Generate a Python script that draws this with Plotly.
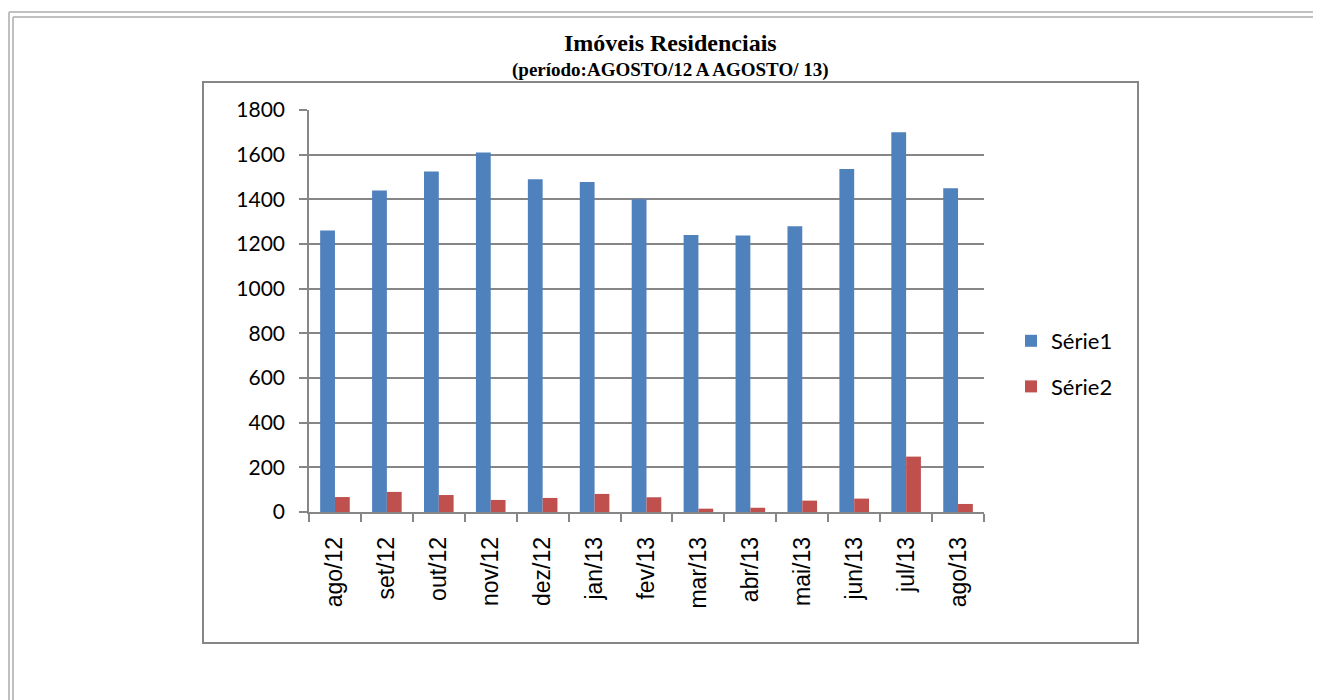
import plotly.graph_objects as go

categories = ["ago/12", "set/12", "out/12", "nov/12", "dez/12", "jan/13", "fev/13",
              "mar/13", "abr/13", "mai/13", "jun/13", "jul/13", "ago/13"]
serie1 = [1260, 1440, 1525, 1610, 1490, 1478, 1400, 1240, 1238, 1280, 1536, 1700, 1450]
serie2 = [67, 90, 76, 54, 63, 81, 66, 15, 19, 51, 60, 248, 36]
y_ticks = [0, 200, 400, 600, 800, 1000, 1200, 1400, 1600, 1800]

OFF = 8  # page body offset
W, H = 1321 - OFF, 700 - OFF
# plot area in page pixels
PL, PR, PT, PB = 309, 984, 110, 512
L, T = PL - OFF, PT - OFF
R, B = W - (PR - OFF), H - (PB - OFF)
pw, ph = W - L - R, H - T - B

def px(x):
    return (x - OFF - L) / pw

def py(y):
    return (H - B - (y - OFF)) / ph

fig = go.Figure()
fig.add_trace(go.Bar(x=categories, y=serie1, name="Série1", marker_color="#4F81BD",
                     marker_line_width=0, legendgroup="a"))
fig.add_trace(go.Bar(x=categories, y=serie2, name="Série2", marker_color="#C0504D",
                     marker_line_width=0, legendgroup="b"))

grid = "#868686"
yfont = dict(family="Lato, Carlito, Calibri, sans-serif", size=21, color="#000000")
xfont = dict(family="Liberation Sans, Arial, sans-serif", size=23, color="#000000")

fig.update_layout(
    width=W, height=H,
    margin=dict(l=L, r=R, t=T, b=B, autoexpand=False),
    paper_bgcolor="white", plot_bgcolor="white",
    barmode="group", bargap=0.43, bargroupgap=0,
    showlegend=True,
    legend=dict(x=px(1011), y=py(320), xanchor="left", yanchor="top",
                font=dict(family="Lato, Carlito, Calibri, sans-serif", size=22, color="#000"),
                tracegroupgap=14, traceorder="grouped", bgcolor="rgba(0,0,0,0)"),
    xaxis=dict(type="category", showgrid=False, showline=True, linecolor=grid, linewidth=1.5,
               ticks="outside", ticklen=8, tickcolor=grid, tickwidth=1.5, tickson="boundaries",
               tickangle=-90, tickfont=xfont, ticklabelstandoff=14, fixedrange=True),
    yaxis=dict(range=[0, 1800], tickvals=y_ticks, showgrid=True, gridcolor=grid, gridwidth=1.5,
               showline=True, linecolor=grid, linewidth=1.5, ticks="outside", ticklen=8,
               tickcolor=grid, tickwidth=1.5, tickfont=yfont, ticklabelstandoff=10,
               zeroline=False, fixedrange=True),
    shapes=[
        # chart box
        dict(type="rect", xref="paper", yref="paper", x0=px(203), x1=px(1138),
             y0=py(643), y1=py(82), line=dict(color="#868686", width=2), layer="below"),
        # page frame lines
        dict(type="line", xref="paper", yref="paper", x0=px(9), x1=px(1321), y0=py(12), y1=py(12),
             line=dict(color="#C0C0C0", width=2)),
        dict(type="line", xref="paper", yref="paper", x0=px(13), x1=px(1321), y0=py(17), y1=py(17),
             line=dict(color="#C0C0C0", width=2)),
        dict(type="line", xref="paper", yref="paper", x0=px(9), x1=px(9), y0=py(12), y1=py(700),
             line=dict(color="#C0C0C0", width=2)),
        dict(type="line", xref="paper", yref="paper", x0=px(13), x1=px(13), y0=py(17), y1=py(700),
             line=dict(color="#C0C0C0", width=2)),
    ],
    annotations=[
        dict(text="<b>Imóveis Residenciais</b>", xref="paper", yref="paper",
             x=px(670), y=py(43), xanchor="center", yanchor="middle", showarrow=False,
             font=dict(family="Liberation Serif, Times New Roman, serif", size=24, color="#000")),
        dict(text="<b>(período:AGOSTO/12 A AGOSTO/ 13)</b>", xref="paper", yref="paper",
             x=px(670), y=py(70), xanchor="center", yanchor="middle", showarrow=False,
             font=dict(family="Liberation Serif, Times New Roman, serif", size=19, color="#000")),
    ],
)

fig.write_html("out.html")
